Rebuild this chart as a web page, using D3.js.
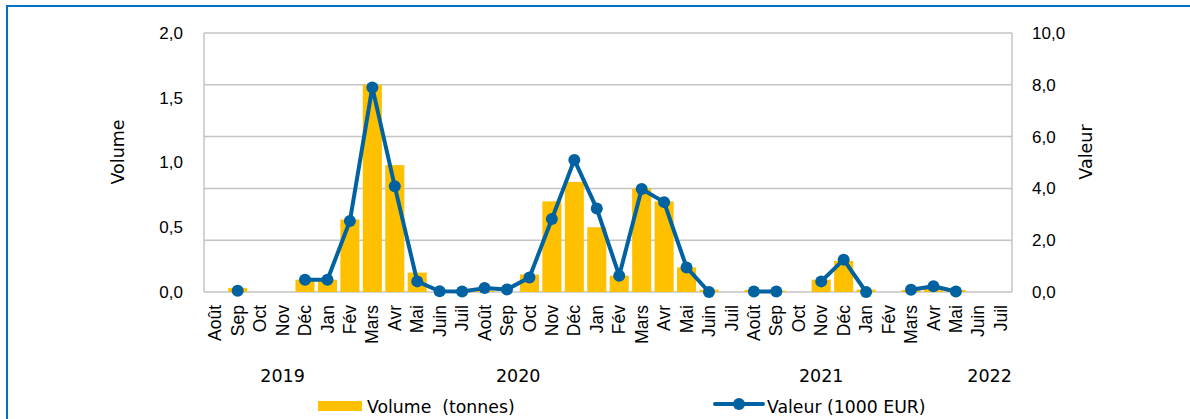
<!DOCTYPE html>
<html>
<head>
<meta charset="utf-8">
<script src="https://cdn.jsdelivr.net/npm/d3@7"></script>
<style>
  body { margin: 0; background: #fff; }
  svg { display: block; font-family: "DejaVu Sans", sans-serif; }
  .grid line { stroke: #c4c4c4; stroke-width: 1.5; }
  .tick text { fill: #000; }
</style>
</head>
<body>
<div id="chart"></div>
<script>
// months Août 2019 .. Juil 2022
var months = ["Août","Sep","Oct","Nov","Déc","Jan","Fév","Mars","Avr","Mai","Juin","Juil",
              "Août","Sep","Oct","Nov","Déc","Jan","Fév","Mars","Avr","Mai","Juin","Juil",
              "Août","Sep","Oct","Nov","Déc","Jan","Fév","Mars","Avr","Mai","Juin","Juil"];
// volume (tonnes)
var volume = [0, 0.03, 0, 0, 0.095, 0.095, 0.56, 1.6, 0.98, 0.15, 0, 0,
              0.01, 0, 0.135, 0.70, 0.85, 0.50, 0.126, 0.80, 0.70, 0.19, 0.018, 0,
              0.015, 0.01, 0, 0.095, 0.24, 0.018, 0, 0.015, 0.025, 0.015, 0, 0];
// valeur (1000 EUR), null = no data
var valeur = [null, 0.05, null, null, 0.47, 0.47, 2.74, 7.9, 4.08, 0.41, 0.03, 0.02,
              0.15, 0.1, 0.56, 2.82, 5.1, 3.22, 0.63, 3.98, 3.47, 0.95, 0.0, null,
              0.02, 0.02, null, 0.41, 1.25, 0.0, null, 0.09, 0.22, 0.02, null, null];
// year labels, placed at a (fractional) month index
var years = ["2019", "2020", "2021", "2022"];
var yearAt = [3.0, 13.5, 27.0, 34.5];
var leftTicks = [0, 0.5, 1, 1.5, 2];
var rightTicks = [0, 2, 4, 6, 8, 10];

var width = 1190, height = 419;
var m = { left: 204, right: 1012, top: 33, bottom: 292 };
var barColor = "#FFC000", lineColor = "#0062A0";

var svg = d3.select("#chart").append("svg")
    .attr("width", width).attr("height", height);

// frame
svg.append("path")
    .attr("d", "M7,430 V6 H1195")
    .attr("fill", "none").attr("stroke", "#0070C0").attr("stroke-width", 2);

var x = d3.scaleBand()
    .domain(d3.range(months.length))
    .range([m.left, m.right])
    .paddingInner(0.15).paddingOuter(0.075);
var yL = d3.scaleLinear().domain([0, 2]).range([m.bottom, m.top]);
var yR = d3.scaleLinear().domain([0, 10]).range([m.bottom, m.top]);
var xc = function(i) { return x(i) + x.bandwidth() / 2; };
var step = (m.right - m.left) / months.length;

// gridlines follow the right axis
svg.append("g").attr("class", "grid")
  .selectAll("line").data(rightTicks).enter()
  .append("line")
    .attr("x1", m.left).attr("x2", m.right)
    .attr("y1", function(d) { return yR(d); })
    .attr("y2", function(d) { return yR(d); });
svg.append("g").attr("class", "grid")
  .selectAll("line").data([m.left, m.right]).enter()
  .append("line")
    .attr("x1", function(d) { return d; }).attr("x2", function(d) { return d; })
    .attr("y1", m.top).attr("y2", m.bottom);

// bars
svg.append("g").selectAll("rect")
    .data(volume).enter()
  .append("rect")
    .attr("x", function(d, i) { return x(i); })
    .attr("width", x.bandwidth())
    .attr("y", function(d) { return yL(d); })
    .attr("height", function(d) { return yL(0) - yL(d); })
    .attr("fill", barColor);

// line
var line = d3.line()
    .defined(function(d) { return d !== null; })
    .x(function(d, i) { return xc(i); })
    .y(function(d) { return yR(d); });
svg.append("path")
    .datum(valeur)
    .attr("d", line)
    .attr("fill", "none")
    .attr("stroke", lineColor)
    .attr("stroke-width", 4)
    .attr("stroke-linejoin", "round");
svg.append("g").selectAll("circle")
    .data(valeur.map(function(d, i) { return { v: d, i: i }; })
                .filter(function(d) { return d.v !== null; }))
    .enter().append("circle")
    .attr("cx", function(d) { return xc(d.i); })
    .attr("cy", function(d) { return yR(d.v); })
    .attr("r", 6)
    .attr("fill", lineColor);

// axes
var fmt = function(d) { return d3.format(".1f")(d).replace(".", ","); };
var axL = svg.append("g")
    .attr("transform", "translate(" + m.left + ",0)")
    .call(d3.axisLeft(yL).tickValues(leftTicks).tickFormat(fmt).tickSize(0).tickPadding(21));
var axR = svg.append("g")
    .attr("transform", "translate(" + m.right + ",0)")
    .call(d3.axisRight(yR).tickValues(rightTicks).tickFormat(fmt).tickSize(0).tickPadding(20));
[axL, axR].forEach(function(a) {
  a.select(".domain").remove();
  a.selectAll("text").attr("font-size", 17).attr("font-family", null);
});

var axB = svg.append("g")
    .attr("transform", "translate(0," + m.bottom + ")")
    .call(d3.axisBottom(x).tickFormat(function(i) { return months[i]; }).tickSize(0));
axB.select(".domain").remove();
axB.selectAll("text")
    .attr("font-size", 17.5).attr("font-family", null)
    .attr("transform", "rotate(-90)")
    .attr("text-anchor", "end")
    .attr("x", -13).attr("y", 0).attr("dy", "0.35em");

// year labels
svg.append("g").selectAll("text")
    .data(years).enter()
  .append("text")
    .attr("x", function(d, i) { return m.left + (yearAt[i] + 0.5) * step; })
    .attr("y", 382)
    .attr("text-anchor", "middle")
    .attr("font-size", 17.5)
    .text(function(d) { return d; });

// axis titles
svg.append("text")
    .attr("transform", "translate(124,152) rotate(-90)")
    .attr("text-anchor", "middle").attr("font-size", 17.5)
    .text("Volume");
svg.append("text")
    .attr("transform", "translate(1092,152) rotate(-90)")
    .attr("text-anchor", "middle").attr("font-size", 17.5)
    .text("Valeur");

// legend
var lg = svg.append("g").attr("font-size", 17.3);
lg.append("rect").attr("x", 318).attr("y", 401).attr("width", 44).attr("height", 10).attr("fill", barColor);
lg.append("text").attr("x", 367).attr("y", 413).text("Volume  (tonnes)").attr("xml:space", "preserve");
lg.append("line").attr("x1", 715).attr("x2", 763).attr("y1", 404).attr("y2", 404)
    .attr("stroke", lineColor).attr("stroke-width", 4).attr("stroke-linecap", "round");
lg.append("circle").attr("cx", 739).attr("cy", 404).attr("r", 6).attr("fill", lineColor);
lg.append("text").attr("x", 767).attr("y", 413).text("Valeur (1000 EUR)");
</script>
</body>
</html>
